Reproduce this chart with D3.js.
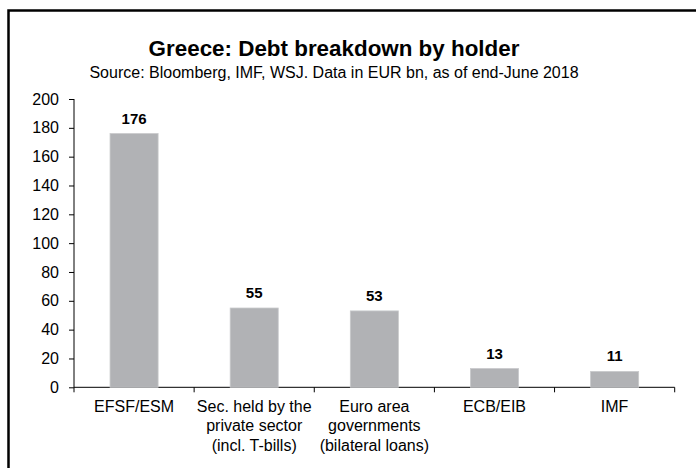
<!DOCTYPE html>
<html>
<head>
<meta charset="utf-8">
<script src="https://cdn.jsdelivr.net/npm/d3@7"></script>
<style>
  body { margin: 0; background: #fff; }
  svg { display: block; font-family: "Liberation Sans", Arial, sans-serif; }
</style>
</head>
<body>
<div id="chart"></div>
<script>
// data
const categories = ["EFSF/ESM", "Sec. held by the private sector (incl. T-bills)", "Euro area governments (bilateral loans)", "ECB/EIB", "IMF"];
const categoryLines = [["EFSF/ESM"], ["Sec. held by the", "private sector", "(incl. T-bills)"], ["Euro area", "governments", "(bilateral loans)"], ["ECB/EIB"], ["IMF"]];
const values = [176, 55, 53, 13, 11];
const yTicks = [0, 20, 40, 60, 80, 100, 120, 140, 160, 180, 200];

const width = 696, height = 468;
const svg = d3.select("#chart").append("svg")
	.attr("width", width)
	.attr("height", height);

// frame (cropped on right and bottom)
svg.append("path")
	.attr("d", `M8.5,${height} L8.5,10.5 L${width},10.5`)
	.attr("fill", "none")
	.attr("stroke", "#000")
	.attr("stroke-width", 2.5);

svg.append("text")
	.attr("x", 334)
	.attr("y", 56)
	.attr("text-anchor", "middle")
	.style("font-size", "22.4px")
	.style("font-weight", "bold")
	.text("Greece: Debt breakdown by holder");

svg.append("text")
	.attr("x", 334)
	.attr("y", 78)
	.attr("text-anchor", "middle")
	.style("font-size", "16px")
	.text("Source: Bloomberg, IMF, WSJ. Data in EUR bn, as of end-June 2018");

// scales
let xScale = d3.scaleBand().domain(categories).range([74, 674.7]).padding(0);
let yScale = d3.scaleLinear().domain([0, 200]).range([387.3, 99]);

// y axis
let yAxis = d3.axisLeft(yScale).tickValues(yTicks).tickSize(5).tickPadding(10);
let gy = svg.append("g")
	.attr("class", "yaxis")
	.attr("transform", "translate(74, 0)")
	.call(yAxis);
gy.select(".domain").attr("stroke", "#000").attr("d", `M0,${yScale(200)}V${yScale(0)}`);
gy.selectAll("text").style("font-size", "16px").attr("fill", "#000");

// x axis line + ticks at band boundaries
let bounds = categories.map(c => xScale(c)).concat([xScale.range()[1]]);
svg.append("line")
	.attr("x1", 74).attr("x2", 674.7)
	.attr("y1", yScale(0)).attr("y2", yScale(0))
	.attr("stroke", "#000");
svg.selectAll(".xtick")
	.data(bounds)
	.enter()
	.append("line")
	.attr("x1", d => d).attr("x2", d => d)
	.attr("y1", yScale(0)).attr("y2", yScale(0) + 5)
	.attr("stroke", "#000");

// bars
let bw = xScale.bandwidth() * 0.4;
svg.selectAll(".bar")
	.data(values)
	.enter()
	.append("rect")
	.attr("x", (d, i) => xScale(categories[i]) + (xScale.bandwidth() - bw) / 2)
	.attr("y", d => yScale(d))
	.attr("width", bw)
	.attr("height", d => yScale(0) - yScale(d))
	.attr("fill", "#b1b2b5")
	.attr("stroke", "#c8c9cb")
	.attr("stroke-width", 0.8);

// value labels
svg.selectAll(".val")
	.data(values)
	.enter()
	.append("text")
	.attr("x", (d, i) => xScale(categories[i]) + xScale.bandwidth() / 2)
	.attr("y", d => yScale(d) - 10)
	.attr("text-anchor", "middle")
	.style("font-size", "15px")
	.style("font-weight", "bold")
	.text(d => d);

// category labels
categoryLines.forEach((lines, i) => {
	let t = svg.append("text")
		.attr("text-anchor", "middle")
		.style("font-size", "16px");
	lines.forEach((l, j) => {
		t.append("tspan")
			.attr("x", xScale(categories[i]) + xScale.bandwidth() / 2)
			.attr("y", 412 + j * 19.3)
			.text(l);
	});
});
</script>
</body>
</html>
